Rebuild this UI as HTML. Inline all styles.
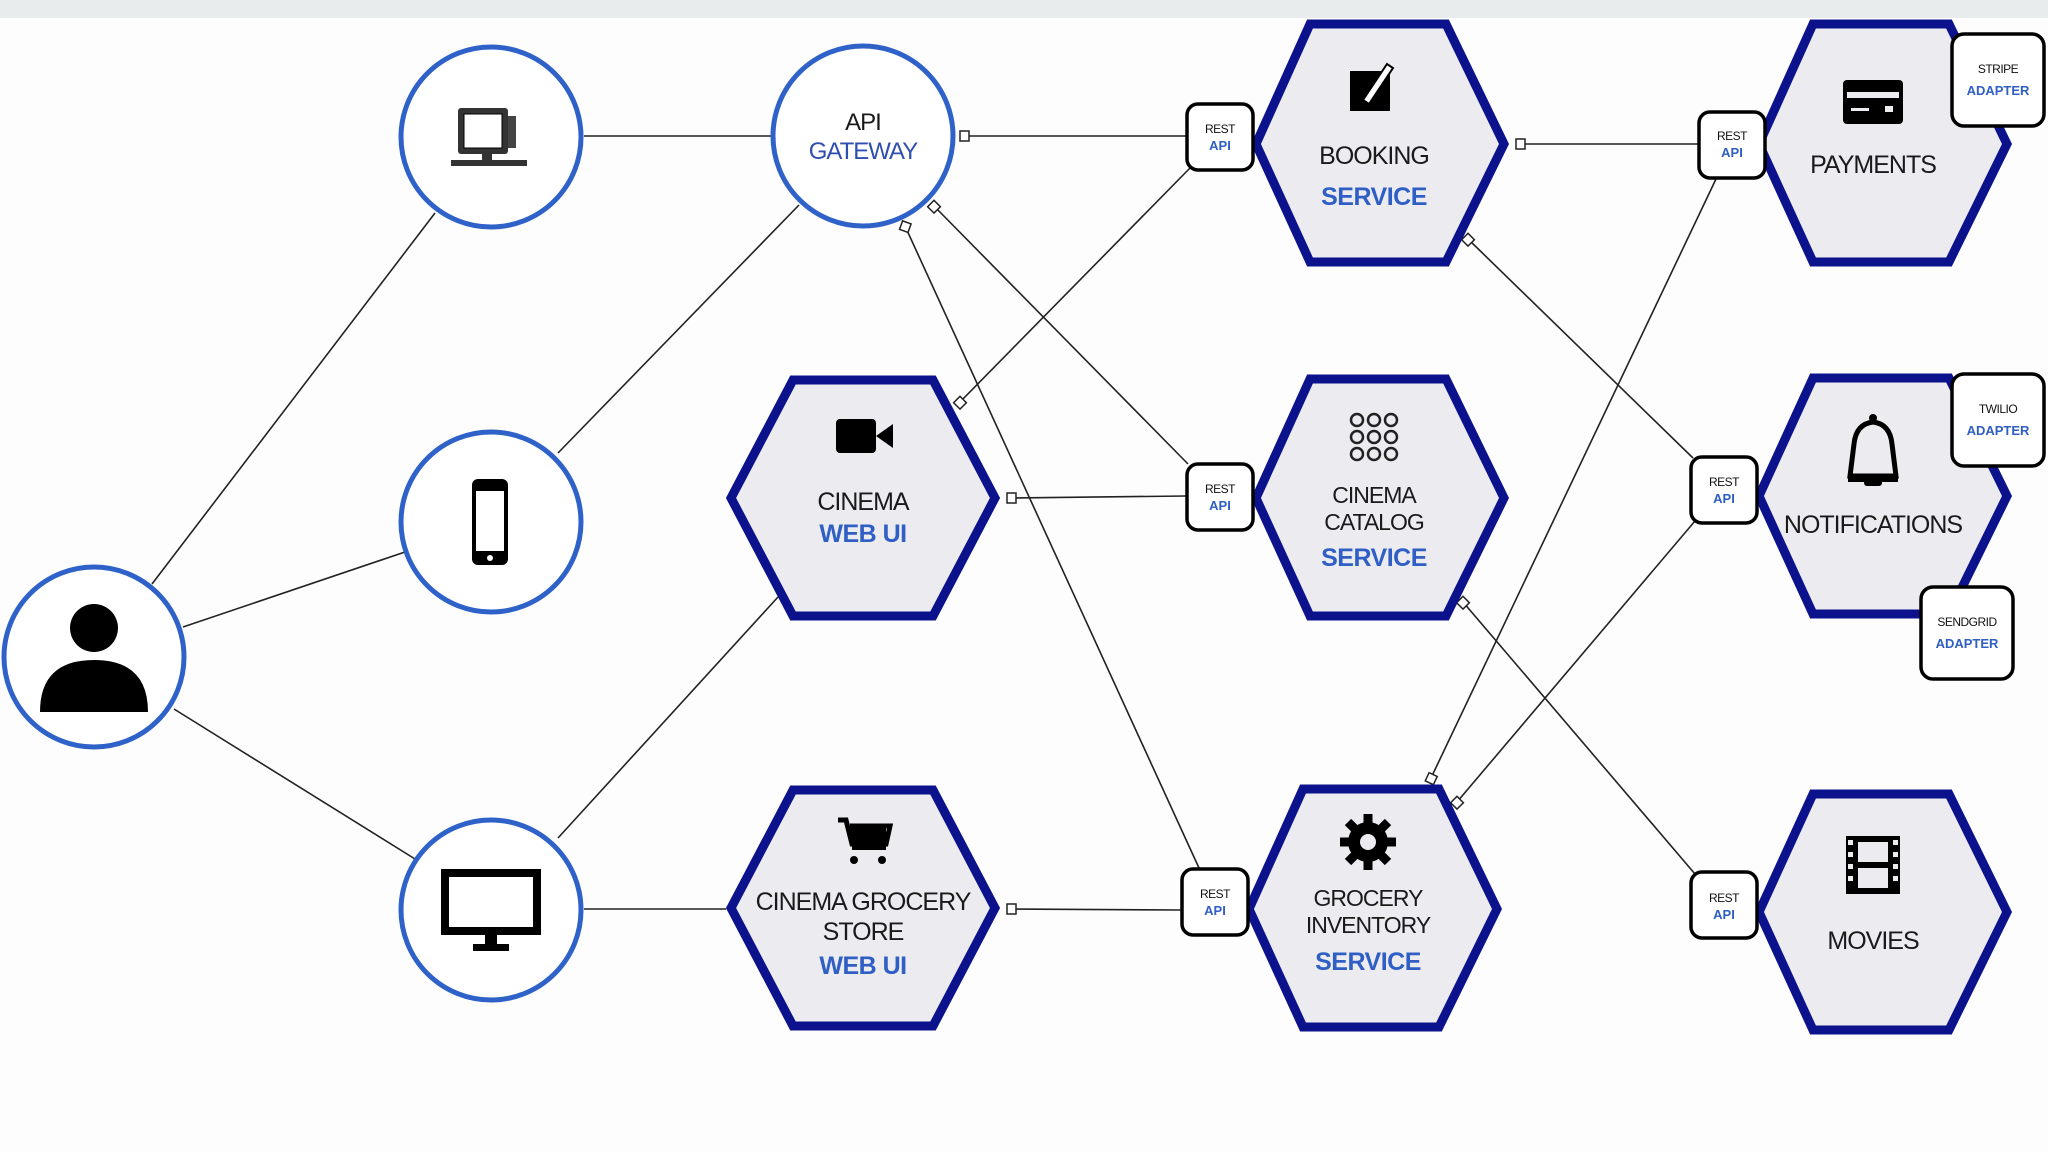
<!DOCTYPE html>
<html><head><meta charset="utf-8"><style>
html,body{margin:0;padding:0;background:#fdfdfe;}
svg{display:block}
text{font-family:"Liberation Sans",sans-serif;text-anchor:middle}
.t{font-size:25px;fill:#1a1a1a;letter-spacing:-1px}
.b{font-size:25px;fill:#2f5fc4;font-weight:bold;letter-spacing:-0.5px}
.r1{font-size:12px;fill:#111;letter-spacing:-0.5px}
.r2{font-size:13px;fill:#2f5fc4;font-weight:bold}
</style></head><body>
<svg width="2048" height="1152" viewBox="0 0 2048 1152">
<rect width="2048" height="1152" fill="#fdfdfe"/>
<rect width="2048" height="18" fill="#e8ecec"/>
<g stroke="#222" stroke-width="1.6" fill="none">
<line x1="152" y1="584" x2="435" y2="213"/>
<line x1="183" y1="627" x2="405" y2="552"/>
<line x1="174" y1="709" x2="415" y2="859"/>
<line x1="584" y1="136" x2="773" y2="136"/>
<line x1="558" y1="453" x2="799" y2="205"/>
<line x1="558" y1="838" x2="778" y2="597"/>
<line x1="584" y1="909" x2="726" y2="909"/>
<line x1="964" y1="136" x2="1186" y2="136"/>
<line x1="934" y1="206" x2="1188" y2="464"/>
<line x1="905" y1="226" x2="1199" y2="868"/>
<line x1="960" y1="402" x2="1191" y2="167"/>
<line x1="1011" y1="498" x2="1186" y2="496"/>
<line x1="1011" y1="909" x2="1181" y2="910"/>
<line x1="1520" y1="144" x2="1698" y2="144"/>
<line x1="1468" y1="239" x2="1693" y2="458"/>
<line x1="1463" y1="602" x2="1695" y2="874"/>
<line x1="1431" y1="778" x2="1716" y2="179"/>
<line x1="1457" y1="802" x2="1695" y2="521"/>
</g>
<g fill="#fff" stroke="#222" stroke-width="1.5">
<rect x="960" y="131" width="9" height="10"/>
<rect x="930" y="202" width="9" height="9" transform="rotate(45 934 206)"/>
<rect x="901" y="222" width="9" height="9" transform="rotate(20 905 226)"/>
<rect x="956" y="398" width="9" height="9" transform="rotate(45 960 402)"/>
<rect x="1007" y="493" width="9" height="10"/>
<rect x="1007" y="904" width="9" height="10"/>
<rect x="1516" y="139" width="9" height="10"/>
<rect x="1464" y="235" width="9" height="9" transform="rotate(45 1468 239)"/>
<rect x="1459" y="598" width="9" height="9" transform="rotate(45 1463 602)"/>
<rect x="1427" y="774" width="9" height="9" transform="rotate(25 1431 778)"/>
<rect x="1453" y="798" width="9" height="9" transform="rotate(45 1457 802)"/>
</g>
<g fill="#fff" stroke="#2f62c9" stroke-width="5">
<circle cx="94" cy="657" r="90"/>
<circle cx="491" cy="137" r="90"/>
<circle cx="491" cy="522" r="90"/>
<circle cx="491" cy="910" r="90"/>
<circle cx="863" cy="136" r="90"/>
</g>
<circle cx="94" cy="628" r="24" fill="#000"/>
<path d="M40 712 Q40 660 94 660 Q148 660 148 712 Z" fill="#000"/>
<rect x="458" y="108" width="50" height="46" fill="#333" rx="3"/>
<rect x="464" y="114" width="38" height="34" fill="#fff" stroke="#000" stroke-width="1"/>
<rect x="508" y="116" width="8" height="32" fill="#444"/>
<rect x="482" y="154" width="10" height="8" fill="#333"/>
<rect x="451" y="160" width="76" height="6" fill="#333"/>
<rect x="472" y="479" width="36" height="86" rx="6" fill="#000"/>
<rect x="476" y="491" width="28" height="60" fill="#fff"/>
<circle cx="490" cy="558" r="3" fill="#fff"/>
<rect x="441" y="869" width="100" height="66" fill="#000"/>
<rect x="449" y="877" width="84" height="50" fill="#fff"/>
<rect x="485" y="935" width="12" height="10" fill="#000"/>
<rect x="473" y="944" width="36" height="7" fill="#000"/>
<text class="t" x="863" y="130" style="font-size:24px">API</text>
<text x="863" y="159" style="font-size:24px;fill:#2f4fb0;letter-spacing:-1px">GATEWAY</text>
<g fill="#ececf0" stroke="#0b128c" stroke-width="9" stroke-linejoin="miter">
<polygon points="731,498 793,380 933,380 995,498 933,616 793,616"/>
<polygon points="731,908 793,790 933,790 995,908 933,1026 793,1026"/>
<polygon points="1256,144 1310,24 1446,24 1504,144 1446,262 1310,262"/>
<polygon points="1256,498 1310,379 1446,379 1504,498 1446,616 1310,616"/>
<polygon points="1249,909 1303,789 1439,789 1497,909 1439,1027 1303,1027"/>
<polygon points="1759,144 1813,24 1949,24 2007,144 1949,262 1813,262"/>
<polygon points="1759,496 1813,378 1949,378 2007,496 1949,614 1813,614"/>
<polygon points="1759,912 1813,794 1949,794 2007,912 1949,1030 1813,1030"/>
</g>
<g fill="#fff" stroke="#000" stroke-width="3.5">
<rect x="1187" y="104" width="66" height="66" rx="11"/>
<rect x="1187" y="464" width="66" height="66" rx="11"/>
<rect x="1182" y="869" width="66" height="66" rx="11"/>
<rect x="1699" y="112" width="66" height="66" rx="11"/>
<rect x="1691" y="457" width="66" height="66" rx="11"/>
<rect x="1691" y="872" width="66" height="66" rx="11"/>
<rect x="1952" y="34" width="92" height="92" rx="12"/>
<rect x="1952" y="374" width="92" height="92" rx="12"/>
<rect x="1921" y="587" width="92" height="92" rx="12"/>
</g>
<text class="r1" x="1220" y="133">REST</text><text class="r2" x="1220" y="150">API</text>
<text class="r1" x="1220" y="493">REST</text><text class="r2" x="1220" y="510">API</text>
<text class="r1" x="1215" y="898">REST</text><text class="r2" x="1215" y="915">API</text>
<text class="r1" x="1732" y="140">REST</text><text class="r2" x="1732" y="157">API</text>
<text class="r1" x="1724" y="486">REST</text><text class="r2" x="1724" y="503">API</text>
<text class="r1" x="1724" y="902">REST</text><text class="r2" x="1724" y="919">API</text>
<text class="r1" x="1998" y="73">STRIPE</text><text class="r2" x="1998" y="95">ADAPTER</text>
<text class="r1" x="1998" y="413">TWILIO</text><text class="r2" x="1998" y="435">ADAPTER</text>
<text class="r1" x="1967" y="626">SENDGRID</text><text class="r2" x="1967" y="648">ADAPTER</text>
<text class="t" x="863" y="510">CINEMA</text><text class="b" x="863" y="542">WEB UI</text>
<text class="t" x="863" y="910">CINEMA GROCERY</text><text class="t" x="863" y="940">STORE</text><text class="b" x="863" y="974">WEB UI</text>
<text class="t" x="1374" y="164">BOOKING</text><text class="b" x="1374" y="205">SERVICE</text>
<text class="t" x="1374" y="503" style="font-size:23px">CINEMA</text><text class="t" x="1374" y="530" style="font-size:23px">CATALOG</text><text class="b" x="1374" y="566">SERVICE</text>
<text class="t" x="1368" y="906" style="font-size:23px">GROCERY</text><text class="t" x="1368" y="933" style="font-size:23px">INVENTORY</text><text class="b" x="1368" y="970">SERVICE</text>
<text class="t" x="1873" y="173">PAYMENTS</text>
<text class="t" x="1873" y="533">NOTIFICATIONS</text>
<text class="t" x="1873" y="949">MOVIES</text>
<rect x="836" y="419" width="40" height="34" rx="4" fill="#000"/><polygon points="876,436 893,424 893,448" fill="#000"/>
<path d="M838 820 l8 0 l6 24 l34 0 l4 -18 l-40 0" fill="none" stroke="#000" stroke-width="5"/>
<rect x="850" y="826" width="36" height="16" fill="#000"/>
<path d="M852 848 l34 0" stroke="#000" stroke-width="4"/>
<circle cx="854" cy="860" r="4" fill="#000"/><circle cx="882" cy="860" r="4" fill="#000"/>
<rect x="1350" y="71" width="40" height="40" fill="#000"/>
<path d="M1363 100 l24 -36 l6 4 l-24 36 z" fill="#fff" stroke="#000" stroke-width="2"/>
<g fill="none" stroke="#222" stroke-width="2.5">
<circle cx="1357" cy="420" r="6"/><circle cx="1374" cy="420" r="6"/><circle cx="1391" cy="420" r="6"/>
<circle cx="1357" cy="437" r="6"/><circle cx="1374" cy="437" r="6"/><circle cx="1391" cy="437" r="6"/>
<circle cx="1357" cy="454" r="6"/><circle cx="1374" cy="454" r="6"/><circle cx="1391" cy="454" r="6"/>
</g>
<circle cx="1368" cy="842" r="20" fill="#000"/>
<g stroke="#000" stroke-width="9"><line x1="1368" y1="814" x2="1368" y2="870"/><line x1="1340" y1="842" x2="1396" y2="842"/><line x1="1348" y1="822" x2="1388" y2="862"/><line x1="1388" y1="822" x2="1348" y2="862"/></g>
<circle cx="1368" cy="842" r="8" fill="#ececf0"/>
<rect x="1843" y="80" width="60" height="44" rx="4" fill="#000"/>
<rect x="1847" y="92" width="52" height="6" fill="#ececf0"/>
<rect x="1851" y="108" width="18" height="3" fill="#ececf0"/><rect x="1885" y="106" width="8" height="6" fill="#ececf0"/>
<path d="M1850 476 L1854 444 Q1856 424 1873 422 Q1890 424 1892 444 L1896 476 Z" fill="none" stroke="#000" stroke-width="5"/>
<circle cx="1873" cy="418" r="4" fill="#000"/><rect x="1864" y="480" width="18" height="6" rx="3" fill="#000"/>
<rect x="1848" y="478" width="50" height="4" fill="#000"/>
<rect x="1846" y="836" width="54" height="58" fill="#000"/>
<g fill="#ececf0"><rect x="1858" y="842" width="30" height="20"/><rect x="1858" y="868" width="30" height="20"/>
<rect x="1848" y="840" width="5" height="5"/><rect x="1848" y="852" width="5" height="5"/><rect x="1848" y="864" width="5" height="5"/><rect x="1848" y="876" width="5" height="5"/>
<rect x="1893" y="840" width="5" height="5"/><rect x="1893" y="852" width="5" height="5"/><rect x="1893" y="864" width="5" height="5"/><rect x="1893" y="876" width="5" height="5"/></g>
</svg>
</body></html>
